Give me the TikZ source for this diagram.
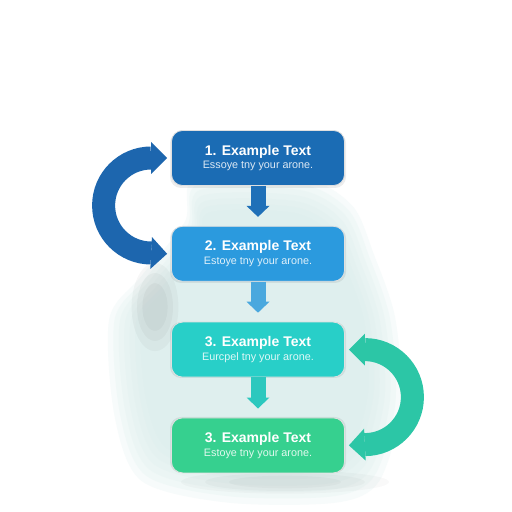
\documentclass[tikz,border=0pt]{standalone}
\usepackage{fontspec}
\setmainfont{Liberation Sans}
\usetikzlibrary{arrows.meta,positioning}

\definecolor{boxone}{HTML}{1B6CB4}
\definecolor{boxtwo}{HTML}{2B9ADE}
\definecolor{boxthree}{HTML}{28CFC8}
\definecolor{boxfour}{HTML}{36D08F}
\definecolor{arrowone}{HTML}{1F70B8}
\definecolor{arrowtwo}{HTML}{4AA8DE}
\definecolor{arrowthree}{HTML}{2CC8BE}
\definecolor{loopblue}{HTML}{1D66AE}
\definecolor{loopgreen}{HTML}{2CC6A6}
\definecolor{blobcol}{HTML}{D8EDEB}

\begin{document}
\begin{tikzpicture}[x=1bp,y=1bp,node distance=40bp,
  step node/.style={rectangle,rounded corners=11bp,minimum width=173bp,minimum height=55bp,
    draw=black!12,line width=0.8bp,text=white,align=center,
    font=\fontsize{10.8bp}{13.5bp}\selectfont},
  step shadow/.style={fill=black,opacity=0.07,rounded corners=11bp},
  down arrow/.style={-{Triangle[width=23bp,length=11bp,line width=0pt]},line width=15bp,shorten >=9bp},
  loop arrow/.style={{Triangle[width=32bp,length=16bp,line width=0pt]}-{Triangle[width=32bp,length=16bp,line width=0pt]},line width=23bp}]

 \useasboundingbox[fill=white] (0,0) rectangle (512,512);

 % soft background blob
 \foreach \s in {1.08,1.04,1.0,0.96,0.92,0.88,0.84}
   \fill[blobcol,opacity=0.2,scale around={\s:(255,180)}] plot[smooth cycle] coordinates {(200,322) (300,322)
     (345,297) (365,252) (385,192) (390,112) (370,42) (330,22) (230,22) (150,42) (125,102) (120,192) (150,232) (190,282)};
 \foreach \r in {1.3,1.0,0.7}
   \fill[black,opacity=0.03] (155,205) ellipse ({18*\r} and {34*\r});
 \foreach \r in {1.3,1.0,0.7}
   \fill[black,opacity=0.025] (285,30) ellipse ({80*\r} and {9*\r});

 % box shadows
 \foreach \y in {354,259,164,69}
   \fill[step shadow] (170,\y-30) rectangle (346,\y+26);

 \node[step node,fill=boxone] (1) at (258,354) {{\fontsize{14bp}{14bp}\selectfont\bfseries 1. Example Text}\\ \textcolor{white!85!boxone}{Essoye tny your arone.}};
 \node[step node,fill=boxtwo] (2) [below=of 1] {{\fontsize{14bp}{14bp}\selectfont\bfseries 2. Example Text}\\ \textcolor{white!85!boxtwo}{Estoye tny your arone.}};
 \node[step node,fill=boxthree] (3) [below=of 2] {{\fontsize{14bp}{14bp}\selectfont\bfseries 3. Example Text}\\ \textcolor{white!85!boxthree}{Eurcpel tny your arone.}};
 \node[step node,fill=boxfour] (4) [below=of 3] {{\fontsize{14bp}{14bp}\selectfont\bfseries 3. Example Text}\\ \textcolor{white!85!boxfour}{Estoye tny your arone.}};

 \draw[down arrow,arrowone] (1) -- (2);
 \draw[down arrow,arrowtwo] (2) -- (3);
 \draw[down arrow,arrowthree] (3) -- (4);

 \draw[loop arrow,loopblue] ([xshift=-4bp]1.west) -- ++(-16,0)
   arc[start angle=90,end angle=270,radius=47.5] -- ([xshift=-4bp]2.west);
 \draw[loop arrow,loopgreen] ([xshift=4bp]3.east) -- ++(16,0)
   arc[start angle=90,end angle=-90,radius=47.5] -- ([xshift=4bp]4.east);

\end{tikzpicture}
\end{document}
